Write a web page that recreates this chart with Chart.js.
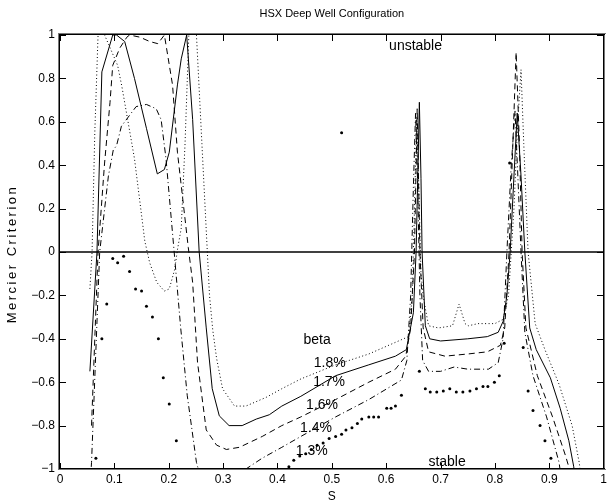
<!DOCTYPE html>
<html><head><meta charset="utf-8">
<script src="https://cdn.jsdelivr.net/npm/chart.js@4.4.1/dist/chart.umd.min.js"></script>
<style>html,body{margin:0;padding:0;background:#fff}canvas{display:block}</style>
</head><body>
<canvas id="c" width="610" height="504"></canvas>
<script>
// ---- data ----
const xTickValues = [0,0.1,0.2,0.3,0.4,0.5,0.6,0.7,0.8,0.9,1];
const xTickLabels = ['0','0.1','0.2','0.3','0.4','0.5','0.6','0.7','0.8','0.9','1'];
const yTickValues = [-1,-0.8,-0.6,-0.4,-0.2,0,0.2,0.4,0.6,0.8,1];
const yTickLabels = ['\u22121','\u22120.8','\u22120.6','\u22120.4','\u22120.2','0','0.2','0.4','0.6','0.8','1'];

// beta = 1.8 %  (dotted)
const s18 = [0.055,0.059,0.064,0.070,0.076,0.082,0.106,0.114,0.137,0.156,0.165,0.178,0.192,0.201,0.211,0.216,0.223,0.230,0.237,0.244,0.251,0.261,0.271,0.275,0.281,0.288,0.299,0.321,0.342,0.379,0.408,0.443,0.507,0.568,0.641,0.648,0.652,0.656,0.660,0.664,0.668,0.672,0.678,0.696,0.722,0.734,0.745,0.751,0.769,0.800,0.815,0.825,0.835,0.842,0.848,0.853,0.861,0.874,0.892,0.918,0.942,0.955,0.962];
const m18 = [-0.17,0,0.55,1.0,1.1,1.0,0.86,0.76,0.43,0.05,-0.05,-0.14,-0.18,-0.17,-0.08,0.01,0.11,0.5,1.0,1.1,1.0,0.5,0,-0.2,-0.36,-0.49,-0.63,-0.71,-0.71,-0.67,-0.63,-0.585,-0.52,-0.47,-0.39,-0.2,0.2,0.62,0.3,-0.1,-0.2,-0.26,-0.34,-0.35,-0.34,-0.24,-0.33,-0.34,-0.33,-0.33,-0.31,-0.2,0.2,0.6,0.84,0.5,0,-0.33,-0.45,-0.61,-0.80,-0.97,-1.1];

// beta = 1.7 %  (solid)
const s17 = [0.055,0.068,0.077,0.097,0.104,0.119,0.137,0.159,0.179,0.192,0.201,0.216,0.223,0.233,0.244,0.256,0.269,0.280,0.293,0.311,0.335,0.361,0.385,0.408,0.443,0.507,0.568,0.617,0.637,0.650,0.655,0.658,0.661,0.664,0.666,0.672,0.680,0.700,0.750,0.786,0.806,0.815,0.822,0.828,0.835,0.841,0.848,0.855,0.864,0.876,0.902,0.920,0.936,0.945,0.950];
const m17 = [-0.55,0,0.83,1.0,1.0,0.97,0.80,0.57,0.36,0.38,0.46,0.77,0.89,1.0,0.61,0,-0.35,-0.63,-0.755,-0.80,-0.80,-0.77,-0.75,-0.71,-0.665,-0.57,-0.52,-0.48,-0.45,-0.28,0,0.34,0.69,0.34,0,-0.34,-0.40,-0.41,-0.40,-0.39,-0.37,-0.32,-0.2,0,0.35,0.64,0.35,0,-0.35,-0.45,-0.58,-0.72,-0.87,-0.99,-1.1];

// beta = 1.6 %  (dashed)
const s16 = [0.058,0.070,0.082,0.092,0.097,0.110,0.123,0.128,0.147,0.165,0.180,0.192,0.207,0.216,0.236,0.244,0.253,0.269,0.288,0.306,0.330,0.372,0.408,0.443,0.507,0.568,0.617,0.636,0.645,0.652,0.657,0.662,0.668,0.678,0.708,0.750,0.786,0.810,0.818,0.826,0.833,0.839,0.845,0.850,0.857,0.878,0.906,0.930,0.937,0.942];
const m16 = [-0.80,0,0.41,0.69,0.86,0.94,0.99,1.0,0.99,0.97,0.96,1.0,0.77,0.46,0.02,-0.14,-0.51,-0.82,-0.89,-0.91,-0.90,-0.85,-0.80,-0.76,-0.68,-0.60,-0.54,-0.48,-0.35,0,0.66,0,-0.35,-0.46,-0.48,-0.47,-0.46,-0.43,-0.35,0,0.5,0.92,0.5,0,-0.35,-0.57,-0.76,-0.94,-1.0,-1.1];

// beta = 1.4 %  (dash-dot)
const s14 = [0.056,0.058,0.073,0.089,0.098,0.104,0.113,0.140,0.159,0.177,0.186,0.195,0.210,0.222,0.234,0.251,0.260,0.300,0.342,0.372,0.408,0.443,0.507,0.568,0.628,0.638,0.645,0.650,0.654,0.658,0.662,0.667,0.678,0.700,0.725,0.750,0.788,0.806,0.815,0.822,0.830,0.837,0.843,0.848,0.855,0.870,0.895,0.918,0.925];
const m14 = [-1.05,-0.97,0,0.35,0.47,0.49,0.58,0.67,0.68,0.66,0.61,0.43,0,-0.35,-0.66,-0.97,-1.05,-1.1,-1.0,-0.95,-0.90,-0.85,-0.76,-0.68,-0.59,-0.5,-0.2,0.3,0.64,0.3,-0.2,-0.5,-0.55,-0.55,-0.53,-0.54,-0.54,-0.51,-0.4,0,0.4,0.65,0.3,0,-0.37,-0.57,-0.76,-0.97,-1.1];

// beta = 1.3 %  (dots)
const s13 = [0.066,0.077,0.086,0.097,0.106,0.117,0.128,0.139,0.150,0.159,0.170,0.181,0.190,0.201,0.214,0.421,0.430,0.441,0.452,0.462,0.473,0.484,0.495,0.507,0.518,0.526,0.537,0.547,0.555,0.568,0.577,0.586,0.601,0.609,0.617,0.628,0.661,0.672,0.681,0.693,0.705,0.717,0.729,0.741,0.754,0.766,0.778,0.787,0.799,0.808,0.817,0.827,0.852,0.861,0.870,0.883,0.892,0.903,0.518];
const m13 = [-0.95,-0.40,-0.24,-0.03,-0.05,-0.02,-0.09,-0.17,-0.18,-0.25,-0.30,-0.40,-0.58,-0.70,-0.87,-0.99,-0.96,-0.94,-0.93,-0.91,-0.89,-0.88,-0.86,-0.85,-0.84,-0.82,-0.81,-0.79,-0.77,-0.76,-0.76,-0.76,-0.72,-0.72,-0.71,-0.66,-0.55,-0.63,-0.645,-0.645,-0.64,-0.63,-0.645,-0.645,-0.64,-0.63,-0.62,-0.62,-0.60,-0.57,-0.42,0.41,-0.44,-0.64,-0.73,-0.80,-0.87,-0.95,0.55];

const zeroS = [0,1];
const zeroM = [0,0];

// text annotations (data coordinates)
const noteText = ['unstable','stable','beta','1.8%','1.7%','1.6%','1.4%','1.3%'];
const noteS    = [0.654,0.712,0.473,0.496,0.495,0.482,0.471,0.463];
const noteM    = [0.95,-0.97,-0.405,-0.51,-0.60,-0.705,-0.81,-0.917];

// ---- chart ----
const FONT = '"Liberation Sans", Arial, Helvetica, sans-serif';
const pts = (s,m) => s.map((v,i)=>({x:v,y:m[i]}));
const lineDs = (s,m,dash) => ({data:pts(s,m),showLine:true,borderColor:'#000',borderWidth:1,borderDash:dash,pointRadius:0,fill:false,tension:0});

const frame = {
  id:'frame',
  afterDraw(chart){
    const ctx = chart.ctx, a = chart.chartArea, x = chart.scales.x, y = chart.scales.y;
    ctx.save();
    const L = Math.round(a.left), R = Math.round(a.right), T = Math.round(a.top), B = Math.round(a.bottom);
    // soft outer pixel + solid inner pixel for a ~1.5 px axes box
    ctx.fillStyle = '#777';
    ctx.fillRect(L - 2, T - 2, R - L + 4, 1);
    ctx.fillRect(L - 2, B, R - L + 4, 1);
    ctx.fillRect(L - 2, T - 2, 1, B - T + 3);
    ctx.fillRect(R, T - 2, 1, B - T + 3);
    ctx.fillStyle = '#000';
    ctx.fillRect(L - 1, T - 1, R - L + 2, 1);
    ctx.fillRect(L - 1, B - 1, R - L + 2, 1);
    ctx.fillRect(L - 1, T - 1, 1, B - T + 1);
    ctx.fillRect(R - 1, T - 1, 1, B - T + 1);
    // inward ticks
    xTickValues.forEach(v => { const px = Math.min(Math.max(Math.round(x.getPixelForValue(v)), L), R - 1);
      ctx.fillRect(px, B - 6, 1, 6); ctx.fillRect(px, T, 1, 6); });
    yTickValues.forEach(v => { const py = Math.min(Math.max(Math.round(y.getPixelForValue(v)), T), B - 1);
      ctx.fillRect(L, py, 6, 1); ctx.fillRect(R - 7, py, 6, 1); });
    // annotations
    ctx.font = '14px ' + FONT; ctx.textAlign = 'center'; ctx.textBaseline = 'middle';
    noteText.forEach((t,i) => ctx.fillText(t, x.getPixelForValue(noteS[i]), y.getPixelForValue(noteM[i])));
    // y axis title
    ctx.font = '13px ' + FONT;
    if ('letterSpacing' in ctx) ctx.letterSpacing = '2.5px';
    ctx.translate(12, (a.top + a.bottom) / 2 + 2);
    ctx.rotate(-Math.PI / 2);
    ctx.fillText('Mercier Criterion', 0, 0);
    ctx.restore();
  }
};

new Chart(document.getElementById('c'), {
  type:'scatter',
  data:{datasets:[
    {data:pts(zeroS,zeroM),showLine:true,borderColor:'#000',borderWidth:1.3,pointRadius:0},
    lineDs(s18,m18,[1,2.5]),
    lineDs(s17,m17,[]),
    lineDs(s16,m16,[6,4]),
    lineDs(s14,m14,[6,3,1,3]),
    {data:pts(s13,m13),showLine:false,pointRadius:1.5,pointBackgroundColor:'#000',pointBorderColor:'#000',pointBorderWidth:0}
  ]},
  options:{
    responsive:false, animation:false, devicePixelRatio:1,
    layout:{padding:{left:0,right:4,top:0,bottom:0}},
    plugins:{
      legend:{display:false}, tooltip:{enabled:false},
      title:{display:true,fullSize:false,text:'HSX Deep Well Configuration',color:'#000',
        font:{family:FONT,size:11,weight:'normal',lineHeight:1.25},padding:{top:7,bottom:14.25}}
    },
    scales:{
      x:{type:'linear',min:0,max:1,
        afterBuildTicks:s=>{s.ticks=xTickValues.map(v=>({value:v}));},
        ticks:{callback:(v,i)=>xTickLabels[i],color:'#000',font:{family:FONT,size:12},padding:3,maxRotation:0,autoSkip:false},
        grid:{display:false,drawTicks:false},border:{display:false},
        title:{display:true,text:'S',color:'#000',font:{family:FONT,size:12},padding:{top:0,bottom:0}},
        afterFit:s=>{s.height=35;}},
      y:{type:'linear',min:-1,max:1,
        afterBuildTicks:s=>{s.ticks=yTickValues.map(v=>({value:v}));},
        ticks:{callback:(v,i)=>yTickLabels[i],color:'#000',font:{family:FONT,size:12},padding:5,autoSkip:false},
        grid:{display:false,drawTicks:false},border:{display:false},
        title:{display:false},
        afterFit:s=>{s.width=60;}}
    }
  },
  plugins:[frame]
});
</script>
</body></html>
